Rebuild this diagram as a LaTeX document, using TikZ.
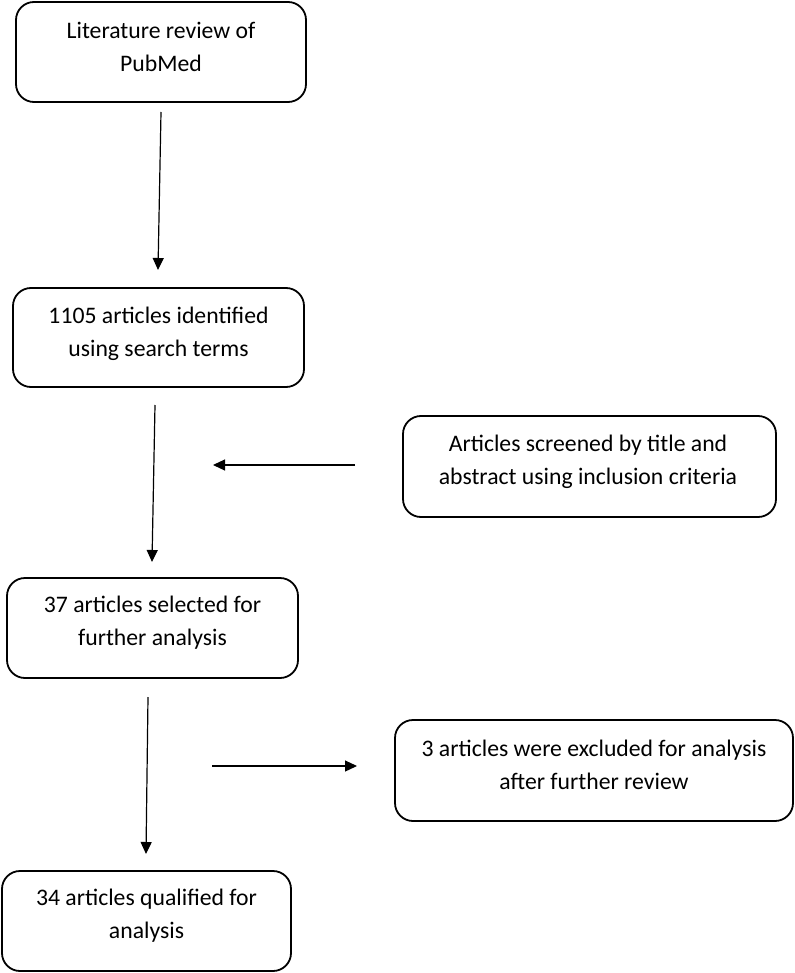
\documentclass[tikz,border=0pt]{standalone}
\usepackage{fontspec}
\setmainfont{Carlito}
\usetikzlibrary{arrows.meta,calc}
\begin{document}
\begin{tikzpicture}[x=1pt,y=-1pt,
  box/.style={draw=black, line width=1.8pt, rounded corners=18pt, inner sep=0pt},
  txt/.style={align=center, font=\fontsize{23.7}{33}\selectfont, inner sep=0pt},
  arr/.style={line width=1.2pt, -{Triangle[length=12pt,width=11pt]}}]
\useasboundingbox (0,0) rectangle (794,973);
% boxes
\node[box, minimum width=290pt, minimum height=100pt] (b1) at (161,52) {};
\node[box, minimum width=291pt, minimum height=99pt] (b2) at (158.5,337.5) {};
\node[box, minimum width=373pt, minimum height=101pt] (b3) at (589.5,466.5) {};
\node[box, minimum width=291pt, minimum height=100pt] (b4) at (152.5,628) {};
\node[box, minimum width=398pt, minimum height=101pt] (b5) at (594,770.5) {};
\node[box, minimum width=289pt, minimum height=100pt] (b6) at (146.5,921) {};
% texts
\node[txt] (t1) at (161,47) {Literature review of\\PubMed};
\node[txt] (t2) at (158.5,334) {1105 articles identified\\using search terms};
\node[txt] (t3) at (588,462) {Articles screened by title and\\abstract using inclusion criteria};
\node[txt] (t4) at (152.5,623) {37 articles selected for\\further analysis};
\node[txt] (t5) at (594,765) {3 articles were excluded for analysis\\after further review};
\node[txt] (t6) at (146.5,916) {34 articles qualified for\\analysis};
% arrow endpoints
\coordinate (a1s) at (161,112);
\coordinate (a1e) at (158,270);
\coordinate (a2s) at (155,405);
\coordinate (a2e) at (152,562);
\coordinate (a3s) at (355,465);
\coordinate (a3e) at (213,465);
\coordinate (a4s) at (148,697);
\coordinate (a4e) at (146,854);
\coordinate (a5s) at (212,766);
\coordinate (a5e) at (357,766);
\draw[arr] (a1s) -- (a1e);
\draw[arr] (a2s) -- (a2e);
\draw[arr] (a3s) -- (a3e);
\draw[arr] (a4s) -- (a4e);
\draw[arr] (a5s) -- (a5e);
\end{tikzpicture}
\end{document}
